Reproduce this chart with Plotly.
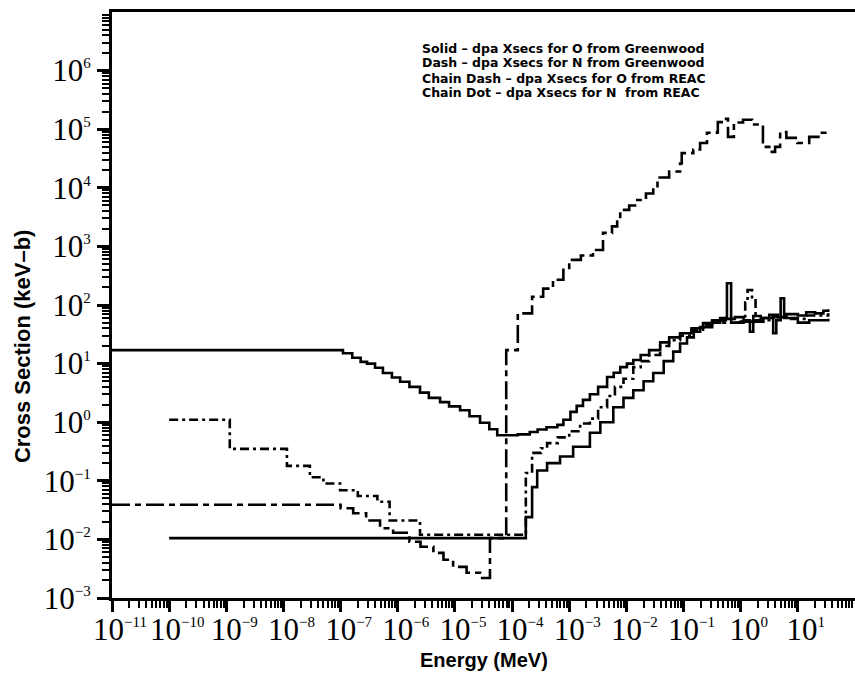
import plotly.graph_objects as go

# Displacement (dpa) cross sections, keV-b, versus neutron energy in MeV.
# Step (group-wise) data: each value holds from its energy to the next.

# Solid - O from Greenwood
o_gw_E = [1.0e-10, 1.74e-4, 2.24e-4, 2.75e-4, 4.1e-4, 6.9e-4, 1.17e-3, 2.3e-3,
          3.5e-3, 5.9e-3, 8.9e-3, 1.32e-2, 2.0e-2, 2.95e-2, 4.5e-2, 6.6e-2,
          8.7e-2, 0.115, 0.151, 0.195, 0.316, 0.437, 0.55, 0.575, 0.68, 1.0,
          2.5, 3.7, 4.2, 5.0, 5.75, 10.0, 15.8, 34.0]
o_gw_xs = [0.0105, 0.024, 0.078, 0.15, 0.2, 0.26, 0.38, 0.66,
           1.0, 1.8, 2.6, 3.5, 5.0, 6.9, 11, 16,
           22, 28, 35, 42, 50, 55, 60, 235, 50, 52,
           60, 33, 55, 130, 60, 50, 55, 58]

# Dash - N from Greenwood
n_gw_E = [1.0e-10, 1.15e-9, 1.15e-8, 2.9e-8, 5.0e-8, 9.8e-8, 2.0e-7, 4.4e-7,
          7.2e-7, 2.45e-6, 1.74e-4, 2.24e-4, 3.2e-4, 4.1e-4, 6.3e-4, 1.0e-3,
          1.55e-3, 2.3e-3, 3.2e-3, 4.6e-3, 6.3e-3, 8.9e-3, 1.32e-2, 1.78e-2,
          2.5e-2, 3.9e-2, 5.6e-2, 8.7e-2, 0.138, 0.219, 0.316, 0.437, 0.50,
          1.12, 1.2, 1.32, 1.58, 1.82, 3.16, 6.3, 14.0, 34.0]
n_gw_xs = [1.1, 0.35, 0.18, 0.115, 0.09, 0.069, 0.055, 0.044,
           0.021, 0.012, 0.136, 0.30, 0.36, 0.44, 0.55, 0.7,
           0.95, 1.15, 1.8, 2.8, 4.0, 5.5, 8.7, 11,
           14, 20, 25, 30, 38, 45, 50, 55, 50,
           60, 110, 180, 120, 55, 62, 58, 66, 72]

# Chain Dash - O from REAC
o_reac_E = [1.0e-11, 1.0e-7, 1.66e-7, 2.8e-7, 4.9e-7, 8.3e-7, 1.6e-6, 2.5e-6,
            4.2e-6, 6.3e-6, 9.3e-6, 1.6e-5, 2.75e-5, 4.1e-5, 7.9e-5, 1.26e-4,
            2.24e-4, 3.5e-4, 5.2e-4, 7.9e-4, 1.0e-3, 1.6e-3, 2.6e-3, 3.9e-3,
            5.6e-3, 6.9e-3, 7.8e-3, 1.12e-2, 1.55e-2, 2.2e-2, 2.95e-2, 3.5e-2,
            5.6e-2, 8.7e-2, 9.3e-2, 0.148, 0.195, 0.257, 0.39, 0.398, 0.50,
            0.60, 0.76, 1.1, 1.58, 2.45, 3.16, 4.0, 4.9, 6.3, 9.8, 15.8,
            24.5, 34.0]
o_reac_xs = [0.039, 0.034, 0.028, 0.021, 0.0155, 0.013, 0.0091, 0.0075,
             0.0059, 0.0045, 0.0034, 0.0027, 0.0022, 0.0105, 17, 72,
             138, 190, 270, 400, 590, 700, 870, 1700,
             2200, 2800, 4200, 5000, 6200, 8000, 10000, 15000,
             19000, 26000, 39000, 45000, 58000, 87000, 89000, 132000, 150000,
             74000, 130000, 145000, 120000, 50000, 41000, 50000, 89000, 71000,
             58000, 74000, 87000, 85000]

# Chain Dot - N from REAC
n_reac_E = [1.0e-11, 1.1e-7, 1.6e-7, 2.24e-7, 2.9e-7, 4.0e-7, 5.5e-7, 7.9e-7,
            1.1e-6, 1.6e-6, 2.45e-6, 3.5e-6, 5.5e-6, 7.9e-6, 1.23e-5, 1.8e-5,
            2.75e-5, 4.0e-5, 5.5e-5, 1.26e-4, 2.04e-4, 2.8e-4, 4.0e-4, 6.2e-4,
            7.9e-4, 1.05e-3, 1.35e-3, 1.74e-3, 2.3e-3, 3.2e-3, 4.6e-3, 6.0e-3,
            7.8e-3, 1.02e-2, 1.32e-2, 1.78e-2, 2.5e-2, 3.9e-2, 5.6e-2, 8.7e-2,
            0.138, 0.219, 0.316, 0.437, 0.56, 0.79, 1.12, 1.45, 1.66, 2.24,
            3.16, 4.5, 6.3, 10.0, 14.0, 20.0, 28.0, 34.0]
n_reac_xs = [17, 15, 12.6, 10.7, 10, 8.5, 6.9, 5.8,
             4.9, 4.0, 3.2, 2.6, 2.2, 1.86, 1.6, 1.26,
             0.98, 0.76, 0.60, 0.62, 0.68, 0.75, 0.82, 0.9,
             1.1, 1.5, 1.9, 2.4, 3.0, 4.0, 5.9, 7.0,
             8.7, 10, 11.5, 14, 17, 23, 28, 33,
             40, 49, 55, 60, 58, 62, 55, 35, 65, 60,
             68, 62, 70, 66, 75, 72, 80, 85]

legend_lines = [
    "Solid \u2013 dpa Xsecs for O from Greenwood",
    "Dash \u2013 dpa Xsecs for N from Greenwood",
    "Chain Dash \u2013 dpa Xsecs for O from REAC",
    "Chain Dot \u2013 dpa Xsecs for N  from REAC",
]

x_exps = list(range(-11, 2))
y_exps = list(range(-3, 7))
minor_digits = [2, 3, 4, 5, 6, 7, 8, 9]


def pow_label(e):
    s = str(e).replace("-", "\u2212")
    return "10<sup><span style='font-size:15px'>" + s + "</span></sup>"


def minor_positions(lo, hi):
    return [d * 10.0 ** e for e in range(lo, hi) for d in minor_digits]


fig = go.Figure()
series = [
    (o_gw_E, o_gw_xs, "solid"),
    (n_gw_E, n_gw_xs, "9px,4px,3px,4px"),
    (o_reac_E, o_reac_xs, "18px,5px,6px,5px"),
    (n_reac_E, n_reac_xs, "solid"),
]
for E, xs, dash in series:
    fig.add_trace(go.Scatter(
        x=E, y=xs, mode="lines", line_shape="hv",
        line=dict(color="black", width=2.6, dash=dash),
        showlegend=False, hoverinfo="skip"))

tick_font = dict(family="Liberation Serif", size=31, color="black")

fig.update_xaxes(
    type="log", range=[-11, 2], autorange=False,
    tickvals=[10.0 ** e for e in x_exps],
    ticktext=[pow_label(e) for e in x_exps],
    tickangle=0, tickfont=tick_font,
    ticklabelshift=8, ticklabelstandoff=-9,
    showline=True, linecolor="black", linewidth=3, mirror=True,
    ticks="outside", ticklen=11, tickwidth=2.5, tickcolor="black",
    minor=dict(ticks="outside", ticklen=7, tickwidth=1.5, tickcolor="black",
               tickmode="array", tickvals=minor_positions(-11, 2),
               showgrid=False),
    showgrid=False, zeroline=False, automargin=False,
)
fig.update_yaxes(
    type="log", range=[-3, 7], autorange=False,
    tickvals=[10.0 ** e for e in y_exps],
    ticktext=[pow_label(e) for e in y_exps],
    tickfont=tick_font,
    showline=True, linecolor="black", linewidth=3,
    ticks="outside", ticklen=12, tickwidth=2.5, tickcolor="black",
    minor=dict(ticks="outside", ticklen=7, tickwidth=1.5, tickcolor="black",
               tickmode="array", tickvals=minor_positions(-3, 7),
               showgrid=False),
    showgrid=False, zeroline=False, automargin=False,
)

annotations = [
    dict(text="<b>Cross Section (keV\u2013b)</b>", x=-0.121, y=0.43,
         xref="paper", yref="paper", textangle=-90, showarrow=False,
         xanchor="center", yanchor="middle",
         font=dict(family="Liberation Sans", size=22, color="black")),
    dict(text="<b>Energy (MeV)</b>", x=0.5, y=-0.106,
         xref="paper", yref="paper", showarrow=False,
         xanchor="center", yanchor="middle",
         font=dict(family="Liberation Sans", size=20, color="black")),
]
legend_y = [48, 63, 78, 93]
for txt, py in zip(legend_lines, legend_y):
    annotations.append(dict(
        text="<b>" + txt + "</b>", x=(420 - 112) / 743, y=(598 - py) / 586,
        xref="paper", yref="paper", showarrow=False,
        xanchor="left", yanchor="middle",
        font=dict(family="DejaVu Sans", size=12.5, color="black")))

fig.update_layout(
    width=855, height=687, autosize=False,
    margin=dict(l=112, r=0, t=12, b=89),
    paper_bgcolor="white", plot_bgcolor="white",
    annotations=annotations,
)

fig.write_html("out.html")
